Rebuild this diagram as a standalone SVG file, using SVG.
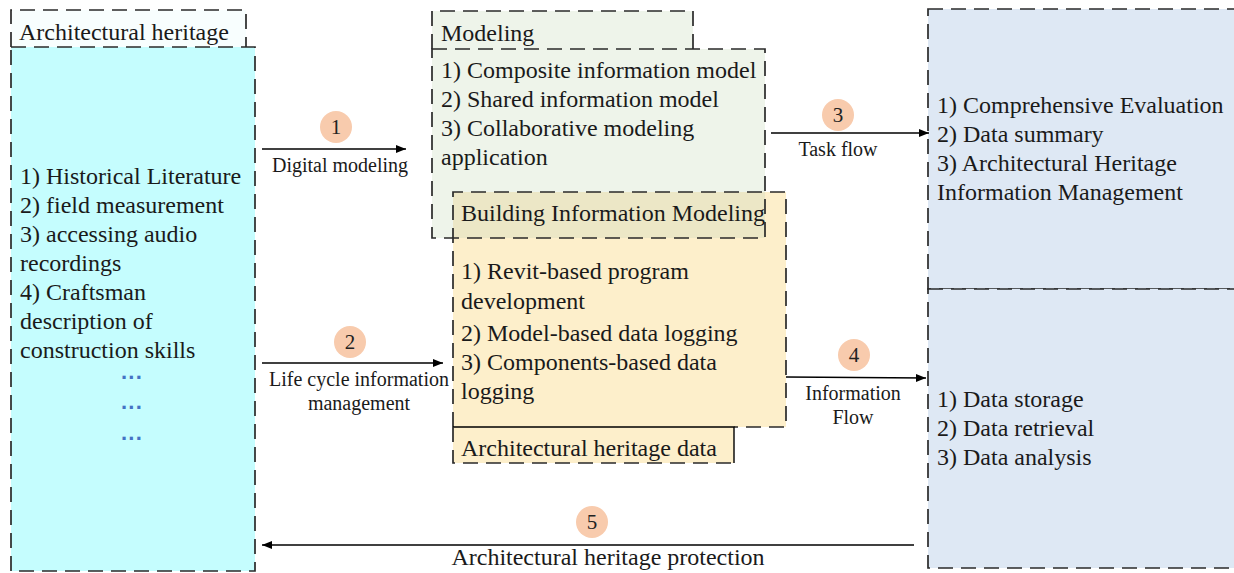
<svg xmlns="http://www.w3.org/2000/svg" width="1234" height="573" viewBox="0 0 1234 573">
<defs>
<marker id="ah" viewBox="0 0 10 10" refX="10" refY="5" markerWidth="10" markerHeight="10" markerUnits="userSpaceOnUse" orient="auto">
<path d="M0,1 L10,5 L0,9 Z" fill="#000"/>
</marker>
<style>
.t{font-family:"Liberation Serif","Times New Roman",serif;font-size:24px;fill:#1a1a1a}
.s{font-family:"Liberation Serif","Times New Roman",serif;font-size:20px;fill:#1a1a1a}
.n{font-family:"Liberation Serif","Times New Roman",serif;font-size:21px;fill:#222;text-anchor:middle}
.d{fill:none;stroke:#2a2a2a;stroke-width:1.7;stroke-dasharray:15 8}
.c{fill:#f8cbad}
.ln{stroke:#000;stroke-width:1.4;fill:none}
.dot{font-family:"Liberation Sans",Arial,sans-serif;font-size:22px;fill:#4472c4;font-weight:bold;text-anchor:middle}
</style>
</defs>
<rect width="1234" height="573" fill="#fff"/>

<g id="heritage">
<rect x="11" y="10" width="235" height="37" fill="#f8fefe"/>
<rect x="11" y="47" width="244" height="524" fill="#c5fdfe"/>
<path class="d" d="M11,47 L11,10 L246,10 L246,47"/>
<rect class="d" x="11" y="47" width="244" height="524"/>
<text class="t" x="19" y="40">Architectural heritage</text>
<text class="t" x="20" y="184">1)  Historical Literature</text>
<text class="t" x="20" y="213">2) field measurement</text>
<text class="t" x="20" y="242">3)  accessing audio</text>
<text class="t" x="20" y="271">recordings</text>
<text class="t" x="20" y="300">4) Craftsman</text>
<text class="t" x="20" y="329">description of</text>
<text class="t" x="20" y="358">construction skills</text>
<text class="dot" x="132" y="385">···</text>
<text class="dot" x="132" y="415">···</text>
<text class="dot" x="132" y="446">···</text>
</g>

<g id="modeling">
<rect x="432" y="11" width="261" height="38" fill="#eef4ea"/>
<rect x="432" y="49" width="333" height="189" fill="#eef4ea"/>
<path class="d" d="M432,49 L432,11 L693,11 L693,49"/>
</g>

<g id="bim">
<rect x="453" y="192" width="333" height="235" fill="#fdefcb"/>
<rect x="453" y="192" width="312" height="46" fill="#ece7c6"/>
<rect x="453" y="427" width="281" height="36" fill="#fdefcb"/>
<path class="d" d="M453,427 L453,192 L786,192 L786,427 L734,427"/>
<path class="ln" d="M453,427 L734,427 L734,463"/>
<path class="d" d="M453,427 L453,463 L734,463"/>
<text class="t" x="461" y="221">Building Information Modeling</text>
<text class="t" x="461" y="279">1) Revit-based program</text>
<text class="t" x="461" y="309">development</text>
<text class="t" x="461" y="341">2) Model-based data logging</text>
<text class="t" x="461" y="370">3) Components-based data</text>
<text class="t" x="461" y="399">logging</text>
<text class="t" x="461" y="456">Architectural heritage data</text>
</g>

<g id="modeling-frame">
<rect class="d" x="432" y="49" width="333" height="189"/>
<text class="t" x="441" y="41">Modeling</text>
<text class="t" x="441" y="78">1) Composite information model</text>
<text class="t" x="441" y="107">2) Shared information model</text>
<text class="t" x="441" y="136">3) Collaborative modeling</text>
<text class="t" x="441" y="165">application</text>
</g>

<g id="evaluation">
<rect x="928" y="9" width="310" height="280" fill="#dee8f4"/>
<rect class="d" x="928" y="9" width="310" height="280"/>
<text class="t" x="937" y="113">1) Comprehensive Evaluation</text>
<text class="t" x="937" y="142">2) Data summary</text>
<text class="t" x="937" y="171">3) Architectural Heritage</text>
<text class="t" x="937" y="200">Information Management</text>
</g>

<g id="storage">
<rect x="928" y="289" width="310" height="279" fill="#dee8f4"/>
<rect class="d" x="928" y="289" width="310" height="279"/>
<text class="t" x="937" y="407">1) Data storage</text>
<text class="t" x="937" y="436">2) Data retrieval</text>
<text class="t" x="937" y="465">3) Data analysis</text>
</g>

<g id="connectors">
<line class="ln" x1="262" y1="149" x2="406" y2="149" marker-end="url(#ah)"/>
<circle class="c" cx="336" cy="127" r="16"/>
<text class="n" x="336" y="134">1</text>
<text class="s" x="340" y="172" text-anchor="middle">Digital modeling</text>

<line class="ln" x1="262" y1="363" x2="443" y2="363" marker-end="url(#ah)"/>
<circle class="c" cx="350" cy="342" r="16"/>
<text class="n" x="350" y="349">2</text>
<text class="s" x="359" y="386" text-anchor="middle">Life cycle information</text>
<text class="s" x="359" y="410" text-anchor="middle">management</text>

<line class="ln" x1="771" y1="133" x2="929" y2="133" marker-end="url(#ah)"/>
<circle class="c" cx="838" cy="115" r="16"/>
<text class="n" x="838" y="122">3</text>
<text class="s" x="838" y="156" text-anchor="middle">Task flow</text>

<line class="ln" x1="786" y1="377" x2="926" y2="378" marker-end="url(#ah)"/>
<circle class="c" cx="854" cy="355" r="16"/>
<text class="n" x="854" y="362">4</text>
<text class="s" x="853" y="400" text-anchor="middle">Information</text>
<text class="s" x="853" y="424" text-anchor="middle">Flow</text>

<line class="ln" x1="914" y1="545" x2="262" y2="545" marker-end="url(#ah)"/>
<circle class="c" cx="592" cy="522" r="16"/>
<text class="n" x="592" y="529">5</text>
<text class="t" x="608" y="565" text-anchor="middle">Architectural heritage protection</text>
</g>
</svg>
